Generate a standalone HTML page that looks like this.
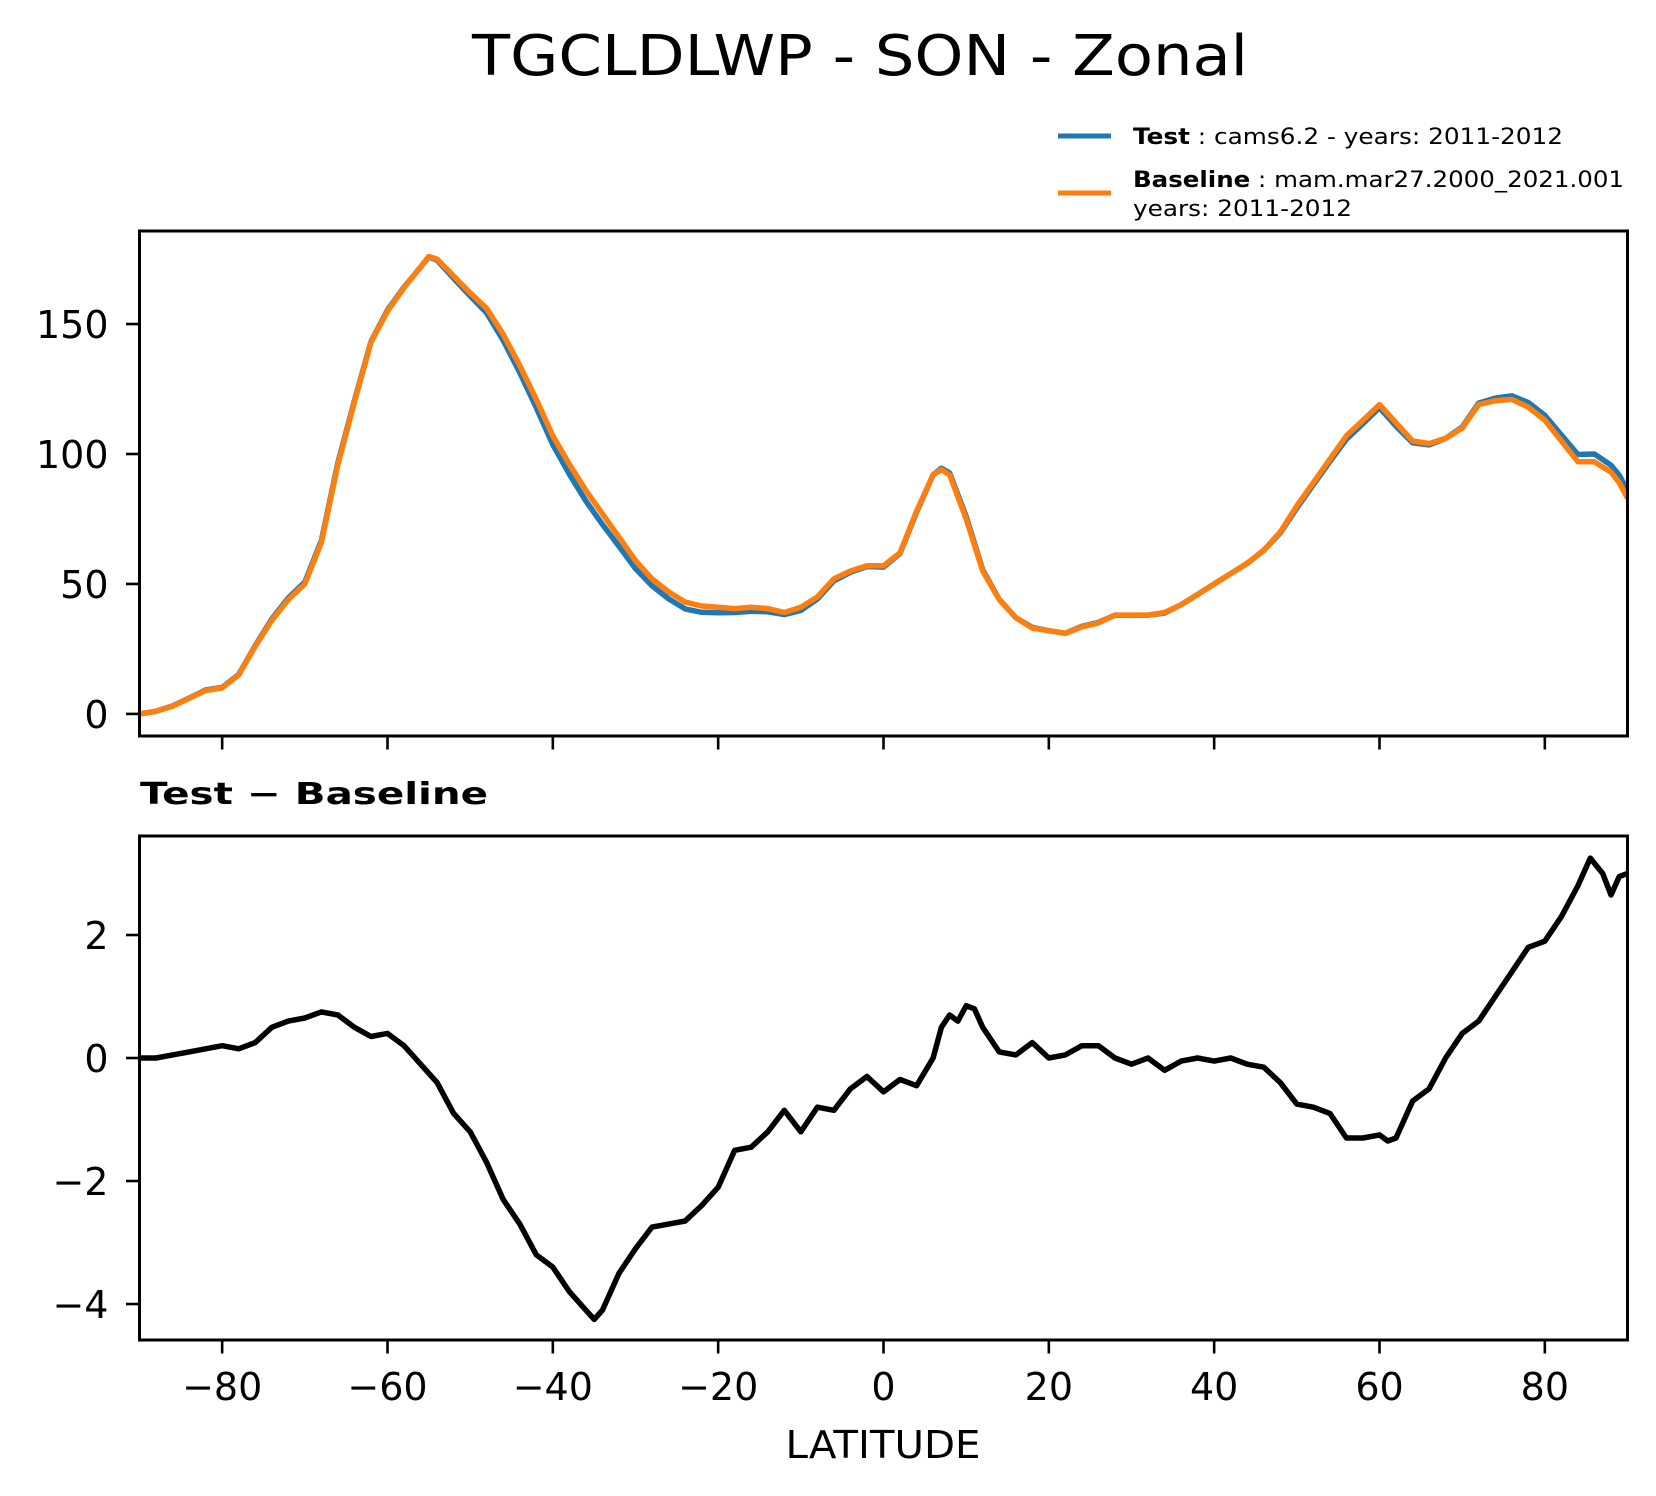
<!DOCTYPE html>
<html><head><meta charset="utf-8"><style>
html,body{margin:0;padding:0;background:#fff;}
svg{display:block;font-family:"DejaVu Sans","Liberation Sans",sans-serif;}
</style></head><body>
<svg id="fig" width="1656" height="1496" viewBox="0 0 1656 1496" xmlns="http://www.w3.org/2000/svg">
<text x="860" y="75" font-size="56" text-anchor="middle" textLength="776" lengthAdjust="spacingAndGlyphs">TGCLDLWP - SON - Zonal</text>
<g>
<line x1="1058" y1="136" x2="1111" y2="136" stroke="#1f77b4" stroke-width="5"/>
<text x="1133" y="144" font-size="22" textLength="430" lengthAdjust="spacingAndGlyphs"><tspan font-weight="bold">Test</tspan> : cams6.2 - years: 2011-2012</text>
<line x1="1058" y1="193" x2="1111" y2="193" stroke="#ff7f0e" stroke-width="5"/>
<text x="1133" y="187" font-size="22" textLength="491" lengthAdjust="spacingAndGlyphs"><tspan font-weight="bold">Baseline</tspan> : mam.mar27.2000_2021.001</text>
<text x="1133" y="216" font-size="22" textLength="219" lengthAdjust="spacingAndGlyphs">years: 2011-2012</text>
</g>
<g id="top"></g>
<text x="140" y="804" font-size="30" font-weight="bold" textLength="348" lengthAdjust="spacingAndGlyphs">Test − Baseline</text>
<g id="bot"></g>
<text x="883" y="1458" font-size="38" text-anchor="middle" textLength="195" lengthAdjust="spacingAndGlyphs">LATITUDE</text>
</svg>
<script>
const latTop = [-90,-88,-86,-84,-82,-80,-78,-76,-74,-72,-70,-68,-66,-64,-62,-60,-58,-56,-55,-54,-52,-50,-48,-46,-44,-42,-40,-38,-36,-34,-32,-30,-28,-26,-24,-22,-20,-18,-16,-14,-12,-10,-8,-6,-4,-2,0,2,4,6,7,8,10,12,14,16,18,20,22,24,26,28,30,32,34,36,38,40,42,44,46,48,50,52,54,56,58,60,62,64,66,68,70,72,74,76,78,80,82,84,86,88,89,90];
const baselineVals = [0,1,3,6,9,10,15,26,36,44,50,66,96,120,143,155,164,172,176,175,168.5,162,156,146,134,121,107,96,86,77,68,59,52,47,43,41.5,41,40.5,41,40.5,39,41,45,52,55,57,57,62,78,92,94,92,75,55,44,37,33,32,31,33.5,35,38,38,38,39,42,46,50,54,58,63,70,80,89,98,107,113,119,112,105,104,106,110,119,120.5,121,118,113,105,97,97,93,89,83];
const testVals = [0,1,3.1,6.1,9.2,10.2,15.2,26.3,36.5,44.6,50.7,66.7,96.7,120.5,143.3,155.4,164.2,171.9,175.8,174.6,167.6,160.8,154.3,143.7,131.3,117.8,103.6,92.2,81.9,72.9,64.5,55.9,49.3,44.3,40.4,39.1,38.9,39,39.5,39.3,38.2,39.8,44.2,51.2,54.5,56.7,56.5,61.7,77.6,92,94.5,92.7,75.9,55.5,44.1,37,33.3,32,31,33.7,35.2,38,37.9,38,38.8,42,46,50,54,57.9,62.9,69.6,79.2,88.2,97.1,105.7,111.7,117.8,110.7,104.3,103.5,106,110.4,119.6,121.5,122.4,119.8,114.9,107.3,99.8,100,95.7,91.9,86];
const latDiff = [-90,-88,-86,-84,-82,-80,-78,-76,-74,-72,-70,-68,-66,-64,-62,-60,-58,-56,-54,-52,-50,-48,-46,-44,-42,-40,-38,-36,-35,-34,-32,-30,-28,-26,-24,-22,-20,-18,-16,-14,-12,-10,-8,-6,-4,-2,0,2,4,6,7,8,9,10,11,12,14,16,18,20,22,24,26,28,30,32,34,36,38,40,42,44,46,48,50,52,54,56,58,60,61,62,64,66,68,70,72,74,76,78,80,82,84,85.5,87,88,89,90];
const diffVals = [0,0,0.05,0.1,0.15,0.2,0.15,0.25,0.5,0.6,0.65,0.75,0.7,0.5,0.35,0.4,0.2,-0.1,-0.4,-0.9,-1.2,-1.7,-2.3,-2.7,-3.2,-3.4,-3.8,-4.1,-4.25,-4.1,-3.5,-3.1,-2.75,-2.7,-2.65,-2.4,-2.1,-1.5,-1.45,-1.2,-0.85,-1.2,-0.8,-0.85,-0.5,-0.3,-0.55,-0.35,-0.45,0,0.5,0.7,0.6,0.85,0.8,0.5,0.1,0.05,0.25,0,0.05,0.2,0.2,0,-0.1,0,-0.2,-0.05,0,-0.05,0,-0.1,-0.15,-0.4,-0.75,-0.8,-0.9,-1.3,-1.3,-1.25,-1.35,-1.3,-0.7,-0.5,0,0.4,0.6,1,1.4,1.8,1.9,2.3,2.8,3.25,3,2.65,2.95,3];
const xTicks = [-80,-60,-40,-20,0,20,40,60,80];
const xTickLabels = ["\u221280","\u221260","\u221240","\u221220","0","20","40","60","80"];
const topYTicks = [0,50,100,150];
const topYTickLabels = ["0","50","100","150"];
const botYTicks = [-4,-2,0,2];
const botYTickLabels = ["\u22124","\u22122","0","2"];

const NS = "http://www.w3.org/2000/svg";
const L = 139.5, R = 1627.5;
const xs = v => L + (v + 90) / 180 * (R - L);
function mk(parent, tag, attrs) {
  const e = document.createElementNS(NS, tag);
  for (const k in attrs) e.setAttribute(k, attrs[k]);
  parent.appendChild(e);
  return e;
}
function axes(g, top, bot, ymin, ymax, yt, ytl, showXLabels, prefix) {
  const ys = v => bot - (v - ymin) / (ymax - ymin) * (bot - top);
  xTicks.forEach((t, i) => {
    const tk = mk(g, "line", {x1: xs(t), x2: xs(t), y1: bot, y2: bot + 13.5, stroke: "#000", "stroke-width": 2.6});
    
    
    if (showXLabels) {
      const tx = mk(g, "text", {x: xs(t), y: bot + 60, "font-size": 38, "text-anchor": "middle"});
      tx.textContent = xTickLabels[i];
      
      
    }
  });
  yt.forEach((t, i) => {
    const tk = mk(g, "line", {x1: L - 13.5, x2: L, y1: ys(t), y2: ys(t), stroke: "#000", "stroke-width": 2.6});
    
    
    const tx = mk(g, "text", {x: L - 31, y: ys(t) + 14, "font-size": 38, "text-anchor": "end"});
    tx.textContent = ytl[i];
    
    
  });
  return ys;
}
function line(g, lats, vals, ys, color, name) {
  const d = lats.map((la, i) => (i ? "L" : "M") + xs(la).toFixed(1) + "," + ys(vals[i]).toFixed(1)).join(" ");
  const p = mk(g, "path", {d: d, fill: "none", stroke: color, "stroke-width": 5.5, "stroke-linejoin": "round", "clip-path": "url(#" + name + "-clip)"});
  
  
}
function clip(g, id, top, bot) {
  const c = mk(g, "clipPath", {id: id});
  mk(c, "rect", {x: L, y: top, width: R - L, height: bot - top});
}
function frame(g, top, bot, prefix) {
  const f = mk(g, "rect", {x: L, y: top, width: R - L, height: bot - top, fill: "none", stroke: "#000", "stroke-width": 3});
  
  
}
const gt = document.getElementById("top");
const T1 = 231, B1 = 736;
const ysT = axes(gt, T1, B1, -8.5, 185.8, topYTicks, topYTickLabels, false, "top");
clip(gt, "test-line-clip", T1, B1);
clip(gt, "baseline-line-clip", T1, B1);
line(gt, latTop, testVals, ysT, "#1f77b4", "test-line");
line(gt, latTop, baselineVals, ysT, "#ff7f0e", "baseline-line");
frame(gt, T1, B1, "top");
const gb = document.getElementById("bot");
const T2 = 836, B2 = 1340;
const ysB = axes(gb, T2, B2, -4.585, 3.61, botYTicks, botYTickLabels, true, "bottom");
clip(gb, "diff-line-clip", T2, B2);
line(gb, latDiff, diffVals, ysB, "#000", "diff-line");
frame(gb, T2, B2, "bottom");
</script>
</body></html>
